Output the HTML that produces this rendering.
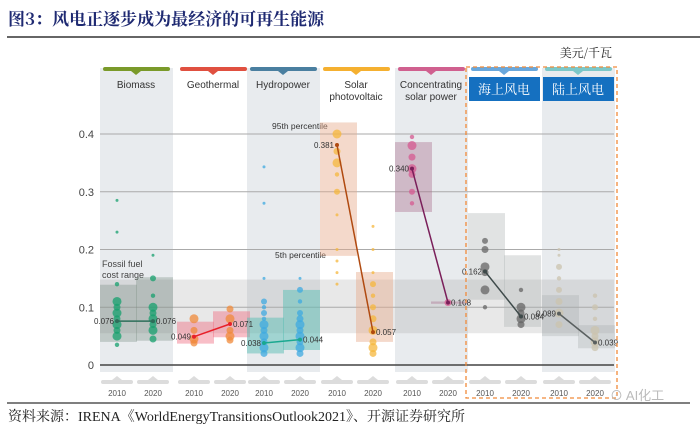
<!DOCTYPE html>
<html><head><meta charset="utf-8">
<style>
body{margin:0;background:#fff;width:700px;height:429px;overflow:hidden;font-family:"Liberation Sans","Noto Sans CJK SC",sans-serif}
svg{display:block}
</style></head>
<body>
<svg id="chart" width="700" height="429" viewBox="0 0 700 429" xmlns="http://www.w3.org/2000/svg">
<text x="8" y="25" font-family="'Noto Serif CJK SC','Noto Sans CJK SC',serif" font-weight="bold" font-size="17" fill="#1f2a72">图3：风电正逐步成为最经济的可再生能源</text>
<line x1="7" y1="37" x2="700" y2="37" stroke="#333" stroke-width="1.5"/>
<text x="612" y="57" text-anchor="end" font-family="'Noto Serif CJK SC',serif" font-size="12" fill="#222">美元/千瓦</text>
<g id="bg"></g><g id="grid"></g><g id="boxes"></g><g id="marks"></g><g id="heads"></g>
<line x1="7" y1="403" x2="690" y2="403" stroke="#333" stroke-width="1.2"/>
<text x="8" y="421" font-family="'Liberation Serif','Noto Serif CJK SC',serif" font-size="14" fill="#222">资料来源：IRENA《WorldEnergyTransitionsOutlook2021》、开源证券研究所</text>
<text x="610" y="400" font-size="13" fill="#bbb">⊙ AI化工</text>
</svg>
<script>
const techs=["Biomass","Geothermal","Hydropower","Solar photovoltaic","Concentrating solar power","海上风电","陆上风电"];
const avg2010=[0.076,0.049,0.038,0.381,0.340,0.162,0.089];
const avg2020=[0.076,0.071,0.044,0.057,0.108,0.084,0.039];
const boxLo2010=[0.040,0.037,0.020,0.189,0.265,0.113,0.050];
const boxHi2010=[0.139,0.075,0.082,0.420,0.386,0.263,0.121];
const boxLo2020=[0.042,0.048,0.026,0.040,0.106,0.066,0.029];
const boxHi2020=[0.152,0.093,0.130,0.161,0.110,0.190,0.069];
const bubbles2010=[[0.035,0.05,0.06,0.07,0.08,0.09,0.1,0.11,0.14,0.23,0.285],[0.038,0.045,0.06,0.08],[0.02,0.03,0.04,0.05,0.06,0.07,0.08,0.09,0.1,0.11,0.15,0.28,0.343],[0.14,0.16,0.18,0.2,0.26,0.3,0.33,0.35,0.37,0.40],[0.28,0.3,0.33,0.34,0.36,0.38,0.395],[0.1,0.13,0.16,0.17,0.2,0.215],[0.07,0.09,0.11,0.13,0.15,0.17,0.19,0.2]];
const bubbles2020=[[0.045,0.06,0.07,0.08,0.09,0.1,0.12,0.15,0.19],[0.043,0.05,0.06,0.08,0.097],[0.02,0.03,0.04,0.05,0.06,0.07,0.08,0.09,0.11,0.13,0.15],[0.02,0.03,0.04,0.06,0.08,0.1,0.12,0.14,0.16,0.2,0.24],[0.108],[0.07,0.08,0.09,0.1,0.13],[0.03,0.04,0.05,0.06,0.08,0.1,0.12]];
const yTicks=[0,0.1,0.2,0.3,0.4];
const fossilRange=[0.055,0.148];
const colors=["#17a06e","#f08a3a","#3fa9e0","#f6b73c","#d65a90","#666666","#cbc3ad"];
const boxCol=["rgba(120,140,130,0.35)","rgba(240,110,130,0.45)","rgba(90,190,180,0.5)","rgba(230,170,140,0.45)","rgba(170,110,140,0.4)","rgba(170,175,175,0.35)","rgba(170,175,175,0.35)"];
const lineCol=["#2e6e5a","#e8202a","#1aa890","#b04a10","#7a1f5a","#3e4a4a","#5a6060"];
const headCol=["#7a9a2a","#e05040","#4a7fa0","#f5b030","#d0608f","#6aa8dc","#7cc8c8"];
const grayCol=[true,false,true,false,true,false,true];
const groupX0=[100,177,247,320,395,468,542], groupW=73;
const NS="http://www.w3.org/2000/svg";
const y=v=>365-v*577.5;
const cx=(i,k)=>groupX0[i]+(k?53:17);
function mk(tag,attrs,parent){const e=document.createElementNS(NS,tag);for(const a in attrs)e.setAttribute(a,attrs[a]);document.getElementById(parent).appendChild(e);return e;}
for(let i=0;i<techs.length;i++){
 if(grayCol[i]){const r=mk("rect",{x:groupX0[i],y:68,width:groupW,height:304,fill:"#e8ebee"},"bg");
 
 }
}
const fb=mk("rect",{x:100,y:y(fossilRange[1]),width:514,height:y(fossilRange[0])-y(fossilRange[1]),fill:"rgba(150,150,150,0.22)"},"bg");


const ft=mk("text",{x:102,y:267,"font-size":"9","fill":"#444"},"grid");ft.textContent="Fossil fuel";


const ft2=mk("text",{x:102,y:278,"font-size":"9","fill":"#444"},"grid");ft2.textContent="cost range";


yTicks.forEach(t=>{
 const l=mk("line",{x1:100,x2:614,y1:y(t),y2:y(t),stroke:t===0?"#444":"#aaa","stroke-width":t===0?1.5:1},"grid");
 
 
 const tx=mk("text",{x:94,y:y(t)+4,"text-anchor":"end","font-size":"11","fill":"#444"},"grid");tx.textContent=String(t);
 
 
});
const p95=mk("text",{x:272,y:129,"font-size":"8.5","fill":"#333"},"grid");p95.textContent="95th percentile";


const p5=mk("text",{x:275,y:258,"font-size":"8.5","fill":"#333"},"grid");p5.textContent="5th percentile";


for(let i=0;i<techs.length;i++){
 [[boxLo2010,boxHi2010],[boxLo2020,boxHi2020]].forEach((b,k)=>{
  const x0=groupX0[i]+(k?36:0);
  const r=mk("rect",{x:x0,y:y(b[1][i]),width:37,height:Math.max(1.5,y(b[0][i])-y(b[1][i])),fill:boxCol[i]},"boxes");
  
  
 });
 [bubbles2010,bubbles2020].forEach((bb,k)=>{
  const av=k?avg2020[i]:avg2010[i];
  bb[i].forEach((v,j)=>{
   const dist=Math.abs(v-av);
   const rad=dist>0.1?1.5:(dist<0.04?(j%2?4.5:3.5):(j%2?3:2.2));
   const c=mk("circle",{cx:cx(i,k),cy:y(v),r:rad,fill:colors[i],opacity:0.75},"marks");
   
   
  });
 });
 const ln=mk("line",{x1:cx(i,0),y1:y(avg2010[i]),x2:cx(i,1),y2:y(avg2020[i]),stroke:lineCol[i],"stroke-width":1.5},"marks");
 
 
 [0,1].forEach(k=>{
  const v=k?avg2020[i]:avg2010[i];
  const d=mk("circle",{cx:cx(i,k),cy:y(v),r:2,fill:lineCol[i]},"marks");
  
  
  const t=mk("text",{x:cx(i,k)+(k?3:-3),y:y(v)+3,"text-anchor":k?"start":"end","font-size":"8","fill":"#333"},"marks");
  t.textContent=v.toFixed(3);
  
  
 });
 const hb=mk("rect",{x:groupX0[i]+3,y:67,width:67,height:4,rx:2,fill:headCol[i]},"heads");
 
 
 const tri=mk("polygon",{points:`${groupX0[i]+31},71 ${groupX0[i]+41},71 ${groupX0[i]+36},75`,fill:headCol[i]},"heads");
 
 
 if(i>=5){
  const bx=mk("rect",{x:groupX0[i]+1,y:77,width:71,height:24,fill:"#1570c0"},"heads");
  
  
  const t=mk("text",{x:groupX0[i]+36,y:94,"text-anchor":"middle","font-size":"13","fill":"#fff","font-family":"'Noto Serif CJK SC',serif"},"heads");
  t.textContent=techs[i];
  
  
 } else {
  const words=techs[i]==="Solar photovoltaic"?["Solar","photovoltaic"]:techs[i]==="Concentrating solar power"?["Concentrating","solar power"]:[techs[i]];
  words.forEach((w,j)=>{
   const t=mk("text",{x:groupX0[i]+36,y:88+j*12,"text-anchor":"middle","font-size":"10","fill":"#333"},"heads");
   t.textContent=w;
   
   
  });
 }
 ["2010","2020"].forEach((yr,k)=>{
  const c=cx(i,k);
  const pill=mk("rect",{x:c-16,y:380,width:32,height:4,rx:2,fill:"#dcdcdc"},"heads");
  
  
  const pt=mk("polygon",{points:`${c-5},380 ${c+5},380 ${c},376`,fill:"#dcdcdc"},"heads");
  
  
  const t=mk("text",{x:c,y:396,"text-anchor":"middle","font-size":"8","fill":"#555"},"heads");
  t.textContent=yr;
  
  
 });
}
const dash=mk("rect",{x:466,y:67,width:151,height:331,fill:"none",stroke:"#f08a3a","stroke-width":1.3,"stroke-dasharray":"4 3"},"heads");


</script>
</body></html>
